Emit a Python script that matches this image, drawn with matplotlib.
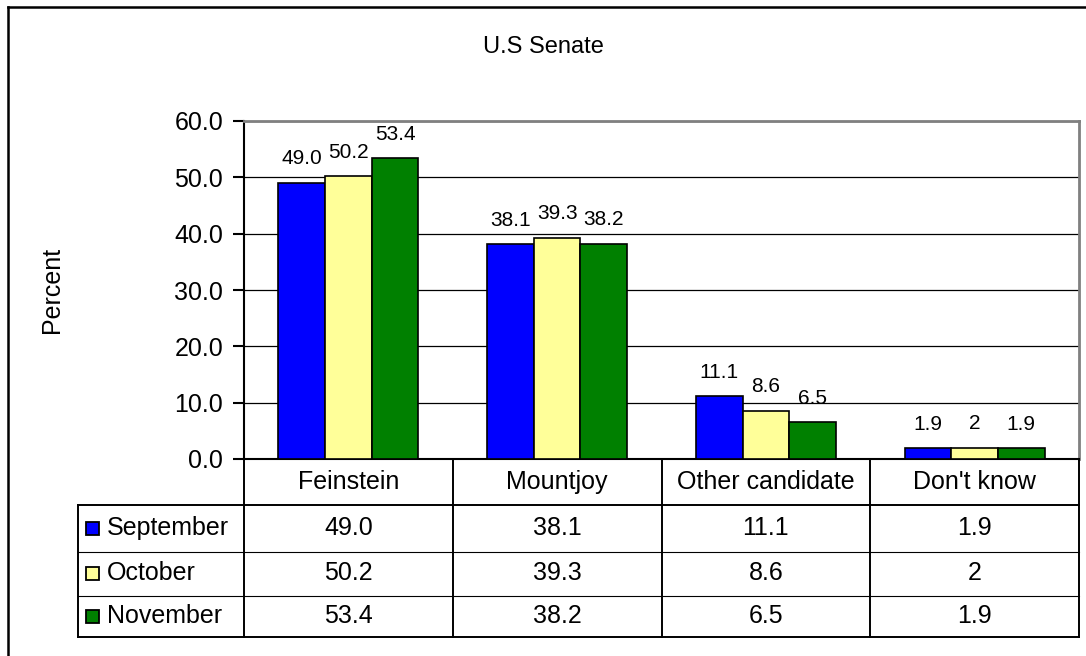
import numpy as np
import matplotlib
matplotlib.use('Agg')
import matplotlib.pyplot as plt
import matplotlib.transforms as mtransforms
from matplotlib.lines import Line2D
from matplotlib.patches import Rectangle

plt.rcParams['font.family'] = ['Liberation Sans', 'DejaVu Sans']

# Datos (texto tal como aparece en la tabla)
candidatos = ['Feinstein', 'Mountjoy', 'Other candidate', "Don't know"]
meses = ['September', 'October', 'November']
september = ['49.0', '38.1', '11.1', '1.9']
october = ['50.2', '39.3', '8.6', '2']
november = ['53.4', '38.2', '6.5', '1.9']
colores = ['#0000FF', '#FFFF99', '#008000']
series = [september, october, november]

W, H = 1086, 656
fig = plt.figure(figsize=(W / 100, H / 100), dpi=100)
ax = fig.add_axes([244 / W, 1 - 459 / H, (1079 - 244) / W, (459 - 121) / H])

# transformacion en pixeles (origen arriba a la izquierda)
px = mtransforms.Affine2D().scale(1 / W, -1 / H).translate(0, 1) + fig.transFigure
xdata_ypx = mtransforms.blended_transform_factory(ax.transData, px)

x = np.arange(len(candidatos))
ancho = 0.2236
for j, (serie, color) in enumerate(zip(series, colores)):
    vals = np.array([float(v) for v in serie])
    pos = x + (j - 1) * ancho
    ax.bar(pos, vals, ancho, color=color, edgecolor='black', linewidth=1.2, zorder=3)
    for xi, v, txt in zip(pos, vals, serie):
        ax.annotate(txt, xy=(xi, v), xytext=(0, 24), textcoords='offset pixels',
                    ha='center', va='center', fontsize=15)

ax.set_xlim(-0.5, len(candidatos) - 0.5)
ax.set_ylim(0, 60)
ax.set_yticks(np.arange(0, 61, 10))
ax.set_yticklabels([f'{v:.1f}' for v in np.arange(0, 61, 10)])
ax.set_xticks([])
ax.tick_params(axis='y', direction='out', length=8, width=1.5, labelsize=18, pad=7)
ax.yaxis.grid(True, color='black', lw=0.9)
ax.set_axisbelow(True)
for lado in ['top', 'right']:
    ax.spines[lado].set_color('#808080')
    ax.spines[lado].set_linewidth(2)
ax.spines['left'].set_linewidth(1.5)
ax.spines['bottom'].set_linewidth(1.5)

fig.text(543, 47, 'U.S Senate', transform=px, ha='center', va='center', fontsize=17)
fig.text(52, 290, 'Percent', transform=px, ha='center', va='center', rotation=90, fontsize=18)

# marco exterior
fig.add_artist(Line2D([8, W + 5], [7, 7], transform=px, color='black', lw=1.8))
fig.add_artist(Line2D([8, 8], [7, H + 5], transform=px, color='black', lw=1.8))

# --------------- tabla de datos ---------------
bordes = np.arange(len(candidatos) + 1) - 0.5
x_izq = -0.5 - 166 / 208.75
y_cab = (459, 505)
y_filas = [505, 551.5, 595.5, 637]

def linea(xs, ys, lw):
    fig.add_artist(Line2D(xs, ys, transform=xdata_ypx, color='black', lw=lw,
                          solid_capstyle='projecting'))

for b in bordes:
    linea([b, b], [y_cab[0], y_cab[1]], 1.4)
    linea([b, b], [y_filas[0], y_filas[-1]], 1.4)
linea([x_izq, x_izq], [y_filas[0], y_filas[-1]], 1.4)
linea([x_izq, bordes[-1]], [y_filas[0], y_filas[0]], 1.4)
linea([x_izq, bordes[-1]], [y_filas[-1], y_filas[-1]], 1.4)
for yl in y_filas[1:-1]:
    linea([x_izq, bordes[-1]], [yl, yl], 0.8)

for i, c in enumerate(candidatos):
    fig.text(x[i], sum(y_cab) / 2, c, transform=xdata_ypx, ha='center', va='center', fontsize=18)

for j, (mes, serie, color) in enumerate(zip(meses, series, colores)):
    yc = (y_filas[j] + y_filas[j + 1]) / 2
    fig.add_artist(Rectangle((86, yc - 6.5), 13, 13, transform=px, facecolor=color,
                             edgecolor='black', lw=1.3))
    fig.text(107, yc, mes, transform=px, ha='left', va='center', fontsize=18)
    for i, txt in enumerate(serie):
        fig.text(x[i], yc, txt, transform=xdata_ypx, ha='center', va='center', fontsize=18)

plt.savefig('out.png', dpi=100)
plt.close()
